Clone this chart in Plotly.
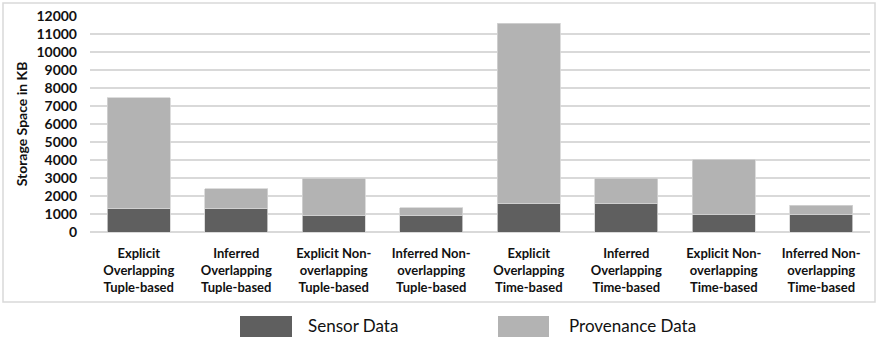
import plotly.graph_objects as go

# Storage used by each provenance scheme (KB)
categories = [
    "Explicit<br>Overlapping<br>Tuple-based",
    "Inferred<br>Overlapping<br>Tuple-based",
    "Explicit Non-<br>overlapping<br>Tuple-based",
    "Inferred Non-<br>overlapping<br>Tuple-based",
    "Explicit<br>Overlapping<br>Time-based",
    "Inferred<br>Overlapping<br>Time-based",
    "Explicit Non-<br>overlapping<br>Time-based",
    "Inferred Non-<br>overlapping<br>Time-based",
]
sensor_data = [1330, 1330, 920, 920, 1600, 1600, 970, 970]
provenance_data = [6120, 1070, 2080, 420, 10000, 1400, 3080, 530]
series_names = ["Sensor Data", "Provenance Data"]
series_colors = ["#5f5f5f", "#b3b3b3"]

W, H = 877, 340
L, R, T, B = 90, 7, 16, 108
PW, PH = W - L - R, H - T - B


def px_x(x):
    return (x - L) / PW


def px_y(y):
    return (H - B - y) / PH


fig = go.Figure()
for name, vals, col in zip(series_names, [sensor_data, provenance_data], series_colors):
    fig.add_trace(go.Bar(
        x=list(range(len(categories))), y=vals, name=name,
        marker=dict(color=col, line=dict(color="#d4d4d4", width=0.8)),
        width=0.646, showlegend=False,
    ))

shapes = [
    # outer chart frame
    dict(type="rect", xref="paper", yref="paper",
         x0=px_x(3), x1=px_x(875), y0=px_y(302), y1=px_y(3),
         line=dict(color="#d9d9d9", width=1.5), fillcolor="rgba(0,0,0,0)", layer="below"),
]
annotations = []
legend_pos = [(240, 292, 306), (498, 549, 567)]
for (x0, x1, tx), name, col in zip(legend_pos, series_names, series_colors):
    shapes.append(dict(type="rect", xref="paper", yref="paper",
                       x0=px_x(x0), x1=px_x(x1), y0=px_y(337), y1=px_y(316),
                       line=dict(width=0), fillcolor=col))
    annotations.append(dict(xref="paper", yref="paper", x=px_x(tx), y=px_y(325),
                            text=name, showarrow=False, xanchor="left", yanchor="middle",
                            font=dict(family="Lato, Open Sans, sans-serif", size=17, color="#111")))

fig.update_layout(
    width=W, height=H,
    margin=dict(l=L, r=R, t=T, b=B),
    paper_bgcolor="white", plot_bgcolor="white",
    barmode="stack", bargap=0.354,
    shapes=shapes, annotations=annotations,
    font=dict(family="Lato, Open Sans, sans-serif", color="#111"),
    xaxis=dict(
        tickmode="array", tickvals=list(range(len(categories))), ticktext=categories,
        range=[-0.5, len(categories) - 0.5],
        tickfont=dict(size=13, family="Lato, sans-serif", weight="bold"),
        showgrid=False, showline=False, ticks="", ticklen=0,
        ticklabelstandoff=12,
    ),
    yaxis=dict(
        range=[0, 12000], dtick=1000, tick0=0, tickformat="d",
        showgrid=True, gridcolor="#d9d9d9", gridwidth=1.5,
        zeroline=True, zerolinecolor="#d9d9d9", zerolinewidth=1.5,
        tickfont=dict(size=14, family="Lato, sans-serif", weight="bold"),
        ticklabelstandoff=12,
        title=dict(text="Storage Space in KB", standoff=5,
                   font=dict(size=14, family="Lato, sans-serif", weight="bold")),
        ticks="", showline=False,
    ),
)

fig.write_html("out.html")
